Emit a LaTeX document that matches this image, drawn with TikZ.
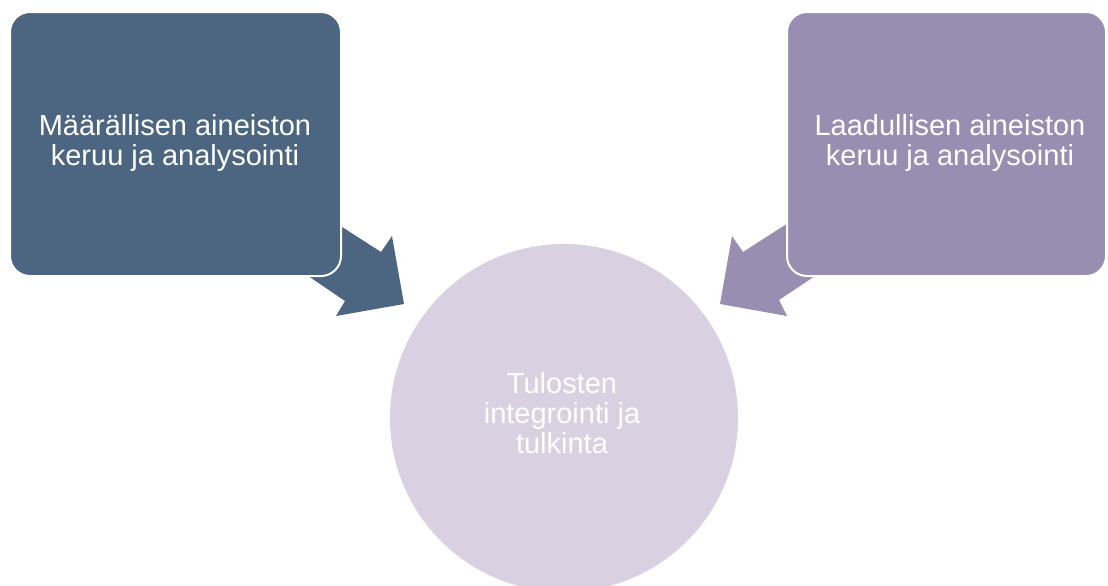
\documentclass[tikz,border=0pt]{standalone}
\usepackage{fontspec}
\setmainfont{Liberation Sans}
\definecolor{slate}{HTML}{4C6580}
\definecolor{lav}{HTML}{978EB1}
\definecolor{pale}{HTML}{D9D0E2}
\begin{document}
\begin{tikzpicture}[x=0.75pt,y=-0.75pt,
  txt/.style={text=white,align=center,font=\fontsize{21.75}{22.5}\selectfont},
  box/.style={draw=white,line width=1.5pt,rounded corners=15pt,inner sep=0pt,
    minimum height=198pt},
  circ/.style={circle,fill=pale,inner sep=0pt,minimum size=261pt}]
\useasboundingbox (0,0) rectangle (1108,586);
% block arrows (behind the boxes)
\fill[slate] (300,200) -- (381,252) -- (392,236) -- (404,304) -- (336,316) -- (345,301) -- (270,250) -- cycle;
\fill[lav] (824,200) -- (743,252) -- (732,236) -- (720,304) -- (787,316) -- (779,300) -- (854,250) -- cycle;
% boxes
\node[box,fill=slate,minimum width=248.25pt] (qbox) at (175.5,144) {};
\node[txt] (q) at (175,143) {Määrällisen aineiston\\keruu ja analysointi};
\node[box,fill=lav,minimum width=239.25pt] (lbox) at (946.5,144) {};
\node[txt] (l) at (950,143) {Laadullisen aineiston\\keruu ja analysointi};
% circle
\node[circ] (cc) at (564,418) {};
\node[txt] (c) at (562,413) {Tulosten\\integrointi ja\\tulkinta};
\end{tikzpicture}
\end{document}
